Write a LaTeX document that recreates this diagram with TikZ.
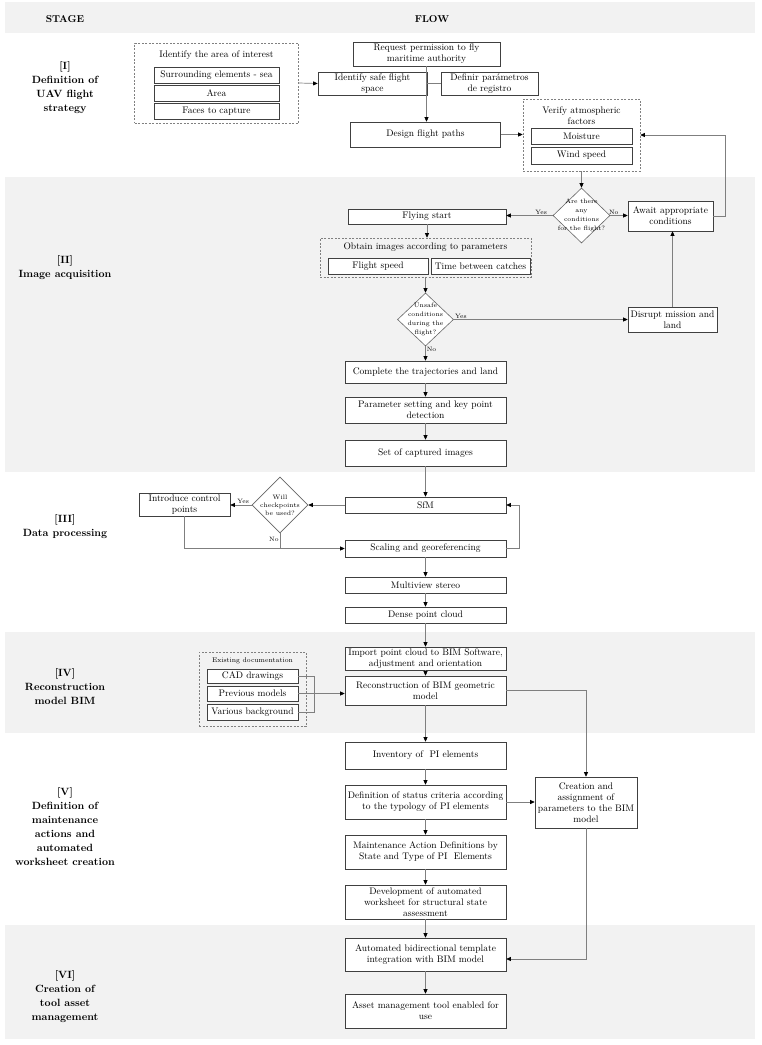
\documentclass[tikz,border=0pt]{standalone}
\usepackage{fontspec}
\usepackage{xcolor}
\usepackage{tikz}
\usetikzlibrary{arrows.meta,shapes.geometric}

\definecolor{bandgray}{HTML}{F2F2F2}
\definecolor{edgegray}{HTML}{7F7F7F}

\begin{document}
\begin{tikzpicture}[x=1pt, y=-1pt,
		every node/.style={font=\fontsize{9.5}{11}\selectfont},
		box/.style 2 args={draw=black!75, fill=white, line width=0.6pt, align=center, inner sep=1pt, minimum width=#1pt, minimum height=#2pt},
		grp/.style 2 args={draw=black!50, dash pattern=on 2pt off 1.5pt, line width=0.6pt, inner sep=0pt, minimum width=#1pt, minimum height=#2pt},
		ask/.style 2 args={diamond, draw=black!60, fill=white, line width=0.6pt, inner sep=0pt, minimum width=#1pt, minimum height=#2pt},
		asktext/.style={font=\fontsize{6.4}{9}\selectfont, align=center, inner sep=0pt},
		flow/.style={draw=edgegray, line width=0.7pt, -{Triangle[length=4.5pt, width=4pt, color=black]}},
		link/.style={draw=edgegray, line width=0.7pt},
		lbl/.style={font=\fontsize{6.3}{7}\selectfont, inner sep=1pt},
		stage/.style={font=\fontsize{10.5}{14}\selectfont\bfseries, align=center},
		band/.style={fill=bandgray}]

		\def\cx{425.5}

		\useasboundingbox (0,0) rectangle (761,1045);

		\foreach \top/\bot in {2/33, 177/472, 632/733, 925/1039}
			\fill[band] (5,\top) rectangle (755,\bot);

		\node[font=\fontsize{10}{12}\selectfont\bfseries] (hstage) at (65,19) {STAGE};
		\node[font=\fontsize{10}{12}\selectfont\bfseries] (hflow) at (432,19) {FLOW};

		\node[stage] (sI) at (65,88) {[I]\\Definition of\\UAV flight\\strategy};
		\node[stage] (sII) at (65,267.5) {[II]\\Image acquisition};
		\node[stage] (sIII) at (65,527) {[III]\\Data processing};
		\node[stage] (sIV) at (65,687) {[IV]\\Reconstruction\\model BIM};
		\node[stage] (sV) at (65,826.5) {[V]\\Definition of\\maintenance\\actions and\\automated\\worksheet creation};
		\node[stage] (sVI) at (65,997) {[VI]\\Creation of\\tool asset\\management};

		% [I]
		\node[grp={164}{80}] (areabox) at (216.5,83) {};
		\node (areatitle) at (216.5,55) {Identify the area of interest};
		\node[box={125}{16}] (sea) at (216.5,75) {Surrounding elements - sea};
		\node[box={125}{16}] (area) at (216.5,93) {Area};
		\node[box={125}{16}] (faces) at (216.5,111) {Faces to capture};
		\node[box={147}{24}] (permit) at (426.5,54) {Request permission to fly\\maritime authority};
		\node[box={109}{23}] (safe) at (372.5,83.5) {Identify safe flight\\space};
		\node[box={97}{23}] (definir) at (489.5,83.5) {Definir parámetros\\de registro};
		\node[box={150}{25}] (design) at (425.5,134.5) {Design flight paths};
		\node[grp={117}{72}] (verify) at (581.5,135) {};
		\node[align=center] (verifytitle) at (581.5,115.5) {Verify atmospheric\\factors};
		\node[box={101}{16}] (moisture) at (581.5,136) {Moisture};
		\node[box={101}{17}] (wind) at (581.5,155.5) {Wind speed};

		% [II]
		\node[ask={57}{55}, label={[asktext]center:Are there\\any\\conditions\\for the flight?}] (dia1) at (581.5,215.5) {};
		\node[box={158}{15}] (fly) at (427,216.5) {Flying start};
		\node[box={85}{30}] (await) at (670.5,216) {Await appropriate\\conditions};
		\node[grp={211}{39}] (obtain) at (\cx,257.5) {};
		\node (obtaintitle) at (\cx,247) {Obtain images according to parameters};
		\node[box={100}{16}] (speed) at (378,266) {Flight speed};
		\node[box={99}{16}] (catches) at (480.5,266) {Time between catches};
		\node[ask={56}{53}, label={[asktext]center:Unsafe\\conditions\\during the\\flight?}] (dia2) at (\cx,319.5) {};
		\node[box={89}{25}] (disrupt) at (672.5,319.5) {Disrupt mission and\\land};
		\node[box={161}{22}] (complete) at (\cx,372) {Complete the trajectories and land};
		\node[box={161}{26}] (param) at (\cx,410) {Parameter setting and key point\\detection};
		\node[box={161}{26}] (captured) at (\cx,453) {Set of captured images};

		% [III]
		\node[box={161}{16}] (sfm) at (\cx,505) {SfM};
		\node[ask={56}{56}, label={[asktext, font=\fontsize{6.4}{8}\selectfont]center:Will\\checkpoints\\be used?}] (dia3) at (280,505) {};
		\node[box={91}{23}] (control) at (184.5,504.5) {Introduce control\\points};
		\node[box={161}{17}] (scaling) at (\cx,548.5) {Scaling and georeferencing};
		\node[box={161}{16}] (stereo) at (\cx,585) {Multiview stereo};
		\node[box={161}{16}] (dense) at (\cx,615) {Dense point cloud};

		% [IV]
		\node[box={161}{23}] (import) at (\cx,658.5) {Import point cloud to BIM Software,\\adjustment and orientation};
		\node[box={161}{29}] (recon) at (\cx,690.5) {Reconstruction of BIM geometric\\model};
		\node[grp={107}{74}] (docs) at (252.5,689) {};
		\node[font=\fontsize{6.8}{8}\selectfont] (docstitle) at (252.5,661) {Existing documentation};
		\node[box={91}{14}] (cad) at (252.5,676) {CAD drawings};
		\node[box={91}{15}] (previous) at (252.5,693.5) {Previous models};
		\node[box={91}{16}] (various) at (252.5,712) {Various background};

		% [V]
		\node[box={161}{27}] (inventory) at (\cx,755.5) {Inventory of~~PI elements};
		\node[box={161}{34}] (criteria) at (\cx,802) {Definition of status criteria according\\to the typology of PI elements};
		\node[box={161}{34}] (actions) at (\cx,852) {Maintenance Action Definitions by\\State and Type of PI~~Elements};
		\node[box={161}{34}] (worksheet) at (\cx,902) {Development of automated\\worksheet for structural state\\assessment};
		\node[box={102}{51}] (creation) at (586,802.5) {Creation and\\assignment of\\parameters to the BIM\\model};

		% [VI]
		\node[box={161}{33}] (template) at (\cx,954.5) {Automated bidirectional template\\integration with BIM model};
		\node[box={161}{34}] (tool) at (\cx,1011) {Asset management tool enabled for\\use};

		% connectors
		\draw[flow] (areabox.east) -- (safe.west);
		\draw[flow] (permit.south) -- (permit.south |- design.north);
		\draw[link] (safe.east) -- (safe.east -| permit.south);
		\draw[link] (definir.west) -- (definir.west -| permit.south);
		\draw[flow] (design.east) -- (design.east -| verify.west);
		\draw[flow] (verify.south) -- (dia1.north);
		\draw[flow] (await.east) -- ++(12,0) |- (verify.east);

		\draw[flow] (dia1.west) -- (dia1.west -| fly.east) node[lbl, above, pos=0.25] {Yes};
		\draw[flow] (dia1.east) -- (dia1.east -| await.west) node[lbl, above, pos=0.2] {No};
		\draw[flow] (fly.south) -- (fly.south |- obtain.north);
		\draw[flow] (obtain.south) -- (dia2.north);
		\draw[flow] (dia2.east) -- (disrupt.west) node[lbl, above right, pos=0] {Yes};
		\draw[flow] (disrupt.north) -- (disrupt.north |- await.south);
		\draw[flow] (dia2.south) -- (complete.north) node[lbl, right, pos=0.2] {No};

		\foreach \a/\b in {complete/param, param/captured, captured/sfm, scaling/stereo, stereo/dense, dense/import, import/recon, recon/inventory, inventory/criteria, criteria/actions, actions/worksheet, worksheet/template, template/tool}
			\draw[flow] (\a.south) -- (\b.north);

		\draw[flow] (sfm.west) -- (dia3.east);
		\draw[flow] (dia3.west) -- (dia3.west -| control.east) node[lbl, above, pos=0.4] {Yes};
		\draw[flow] (control.south) |- (scaling.west);
		\draw[link] (dia3.south) -- (dia3.south |- scaling.west) node[lbl, left, pos=0.4] {No};
		\draw[flow] (scaling.east) -- ++(13,0) |- (sfm.east);

		\draw[link] (cad.east) -- ++(16,0) |- (various.east);
		\draw[flow] (previous.east) -- (previous.east -| recon.west);
		\draw[flow] (recon.east) -| (creation.north);
		\draw[flow] (criteria.east) -- (criteria.east -| creation.west);
		\draw[flow] (creation.south) |- ([yshift=-4.5pt]template.east);
	\end{tikzpicture}
\end{document}
